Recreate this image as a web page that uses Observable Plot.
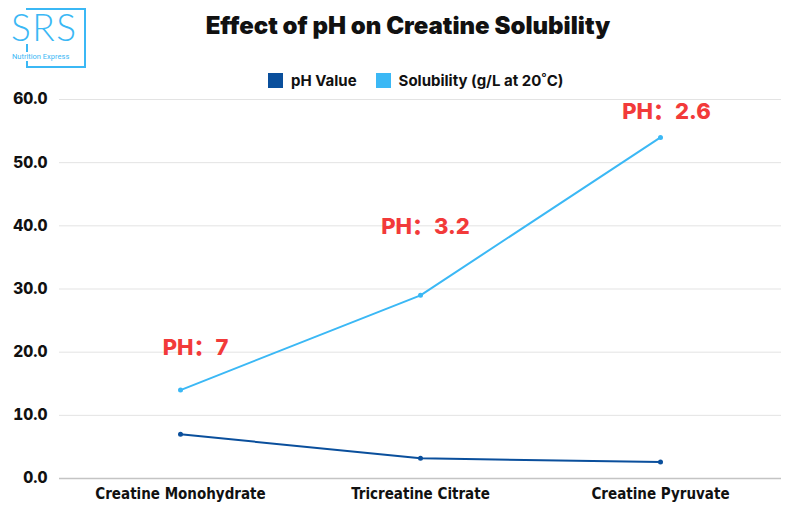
<!DOCTYPE html>
<html><head><meta charset="utf-8">
<script src="https://cdn.jsdelivr.net/npm/d3@7"></script>
<script src="https://cdn.jsdelivr.net/npm/@observablehq/plot@0.6"></script>
<style>
html,body{margin:0;padding:0;background:#fff;}
#wrap{position:relative;width:789px;height:513px;overflow:hidden;font-family:Inter,Lato,sans-serif;}
#title{position:absolute;left:0;width:816px;top:11px;text-align:center;font-size:24px;font-weight:900;color:#111;}
#legend{position:absolute;left:268px;top:71px;font-size:15px;font-weight:700;color:#111;display:flex;align-items:center;}
#legend .sw{width:15px;height:15px;display:inline-block;margin-right:8px;}
#logo{position:absolute;left:26px;top:8px;width:56px;height:56px;border:2px solid #3bb8f5;}
#logo .big{position:absolute;left:-17px;top:0px;font-size:37px;font-weight:300;color:#3bb8f5;font-family:Lato,sans-serif;letter-spacing:1.5px;background:#fff;line-height:34px;height:34px;padding-right:2px;}
#logo .small{position:absolute;left:-16px;top:42px;font-size:7.5px;line-height:9px;color:#3bb8f5;font-family:Roboto,sans-serif;background:#fff;white-space:nowrap;padding-right:1px;}
#chart{position:absolute;left:0;top:0;}
</style></head>
<body><div id="wrap">
<div id="chart"></div>
<div id="logo"><div class="big">SRS</div><div class="small">Nutrition Express</div></div>
<div id="title">Effect of pH on Creatine Solubility</div>
<div id="legend"></div>
</div>
<script>
const categories = ["Creatine Monohydrate", "Tricreatine Citrate", "Creatine Pyruvate"];
const phValues = [7, 3.2, 2.6];
const solubility = [14, 29, 54];
const phLabels = ["PH：7", "PH：3.2", "PH：2.6"];
const labelY = [20.6, 39.8, 58.0];
const yTicks = [0, 10, 20, 30, 40, 50, 60];
const seriesNames = ["pH Value", "Solubility (g/L at 20˚C)"];
const colors = ["#0a4f9c", "#3bb8f5"];

const phData = categories.map((c, i) => ({cat: c, v: phValues[i]}));
const solData = categories.map((c, i) => ({cat: c, v: solubility[i]}));
const labelDx = [15, 5, 6];

const legend = document.getElementById("legend");
seriesNames.forEach((n, i) => {
  const s = document.createElement("span"); s.className = "sw"; s.style.background = colors[i];
  const t = document.createElement("span"); t.textContent = n; t.style.marginRight = i === 0 ? "19px" : "0";
  legend.appendChild(s); legend.appendChild(t);
});

const chart = Plot.plot({
  width: 789, height: 513,
  marginLeft: 59, marginRight: 8, marginTop: 99, marginBottom: 35,
  x: {type: "point", domain: categories, padding: 0.5, label: null},
  y: {domain: [0, 60], ticks: yTicks, label: null, tickFormat: d => d.toFixed(1)},
  style: {fontFamily: "Inter, Lato, sans-serif", background: "#fff"},
  marks: [
    Plot.gridY(yTicks.filter(d => d > 0), {stroke: "#e3e3e3", strokeOpacity: 1, strokeWidth: 1}),
    Plot.ruleY([0], {stroke: "#c4c4c4", strokeWidth: 1.5}),
    Plot.axisY({ticks: yTicks, tickSize: 0, tickPadding: 12, fontSize: 15.5, fontWeight: 800, fill: "#111", tickFormat: d => d.toFixed(1), label: null}),
    Plot.axisX({tickSize: 0, tickPadding: 10, fontSize: 15, fontWeight: 700, fill: "#111", fontFamily: "'DejaVu Sans Condensed', 'Liberation Sans Narrow', Roboto, sans-serif", label: null}),
    Plot.line(phData, {x: "cat", y: "v", stroke: colors[0], strokeWidth: 2}),
    Plot.dot(phData, {x: "cat", y: "v", fill: colors[0], r: 2.5}),
    Plot.line(solData, {x: "cat", y: "v", stroke: colors[1], strokeWidth: 2}),
    Plot.dot(solData, {x: "cat", y: "v", fill: colors[1], r: 2.5}),
    ...categories.map((c, i) => Plot.text([{cat: c, v: labelY[i], t: phLabels[i]}], {
      x: "cat", y: "v", text: "t", dx: labelDx[i], fill: "#f23a3a", fontSize: 22, fontWeight: 800,
      fontFamily: "Inter, 'Noto Sans CJK SC', sans-serif"
    }))
  ]
});
document.getElementById("chart").appendChild(chart);
</script>
</body></html>
